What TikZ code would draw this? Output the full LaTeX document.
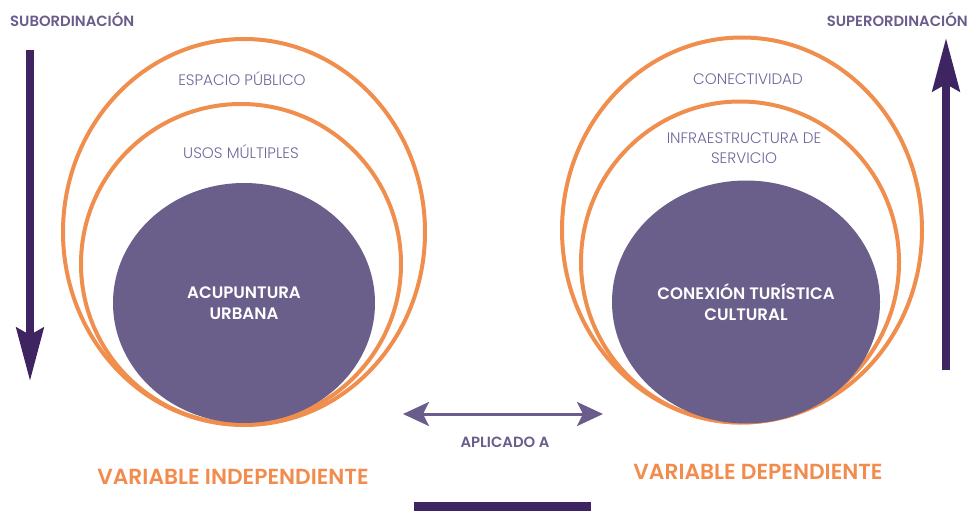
\documentclass[tikz,border=0pt]{standalone}
\usepackage{fontspec}
\setmainfont{Poppins}[BoldFont={Poppins SemiBold}]
\newfontfamily\lightfont{Poppins Light}
\usetikzlibrary{shapes.geometric,arrows.meta}
\definecolor{ring}{RGB}{240,142,78}
\definecolor{core}{RGB}{106,94,138}
\definecolor{lbl}{RGB}{112,102,152}
\definecolor{head}{RGB}{106,93,140}
\definecolor{deep}{RGB}{62,36,97}
\definecolor{varor}{RGB}{242,140,78}
\tikzset{
  ringel/.style={shape=ellipse, draw=ring, line width=4pt, inner sep=0pt, outer sep=0pt},
  coreel/.style={shape=ellipse, fill=core, inner sep=0pt, outer sep=0pt, text=white, font=\bfseries\fontsize{16.6}{21}\selectfont, align=center},
  ringlabel/.style={text=lbl, font=\lightfont\fontsize{15.2}{19.5}\selectfont, align=center, inner sep=0pt},
  sidehead/.style={text=head, font=\bfseries\fontsize{14.8}{16}\selectfont, inner sep=0pt},
  varlabel/.style={text=varor, font=\bfseries\fontsize{21.8}{24}\selectfont, inner sep=0pt},
  bigarrow/.style={draw=deep, line width=8pt, -{Stealth[length=53pt, width=27pt, inset=7pt]}},
  linkarrow/.style={draw=head, line width=3pt, {Stealth[length=26pt, width=24pt, inset=6pt]}-{Stealth[length=26pt, width=24pt, inset=6pt]}}
}
\begin{document}
\begin{tikzpicture}[x=1pt, y=-1pt]
\useasboundingbox (0,0) rectangle (971,511);
% left group
\node[ringel, minimum width=362pt, minimum height=386pt] (louter) at (244,232) {};
\node[ringel, minimum width=320pt, minimum height=320pt] (lmid) at (241,264) {};
\node[coreel, minimum width=262pt, minimum height=240pt] (lcore) at (244,303) {ACUPUNTURA\\URBANA};
\node[ringlabel] (lt1) at (242,79) {ESPACIO PÚBLICO};
\node[ringlabel] (lt2) at (241,152) {USOS MÚLTIPLES};
% right group
\node[ringel, minimum width=360pt, minimum height=385pt] (router) at (742,230) {};
\node[ringel, minimum width=318pt, minimum height=321pt] (rmid) at (740,262) {};
\node[coreel, minimum width=268pt, minimum height=243pt] (rcore) at (746,302) {CONEXIÓN TURÍSTICA\\CULTURAL};
\node[ringlabel] (rt1) at (748,79) {CONECTIVIDAD};
\node[ringlabel] (rt2) at (744,148) {INFRAESTRUCTURA DE\\SERVICIO};
% side headings and arrows
\node[sidehead, anchor=west] (sub) at (10,19) {SUBORDINACIÓN};
\node[sidehead, anchor=east] (sup) at (968,19) {SUPERORDINACIÓN};
\coordinate (dtop) at (30,50);
\coordinate (dtip) at (30,381);
\draw[bigarrow] (dtop) -- (dtip);
\coordinate (ubot) at (946,370);
\coordinate (utip) at (946,38);
\draw[bigarrow] (ubot) -- (utip);
% link
\coordinate (aleft) at (403,414);
\coordinate (aright) at (603,414);
\draw[linkarrow] (aleft) -- (aright);
\node[sidehead] (apl) at (505,442) {APLICADO A};
% variable labels
\node[varlabel] (vind) at (233,477) {VARIABLE INDEPENDIENTE};
\node[varlabel] (vdep) at (758,472) {VARIABLE DEPENDIENTE};
% bottom bar
\node[fill=deep, inner sep=0pt, minimum width=177pt, minimum height=9pt, anchor=south] (bar) at (502.5,511) {};
\end{tikzpicture}
\end{document}
